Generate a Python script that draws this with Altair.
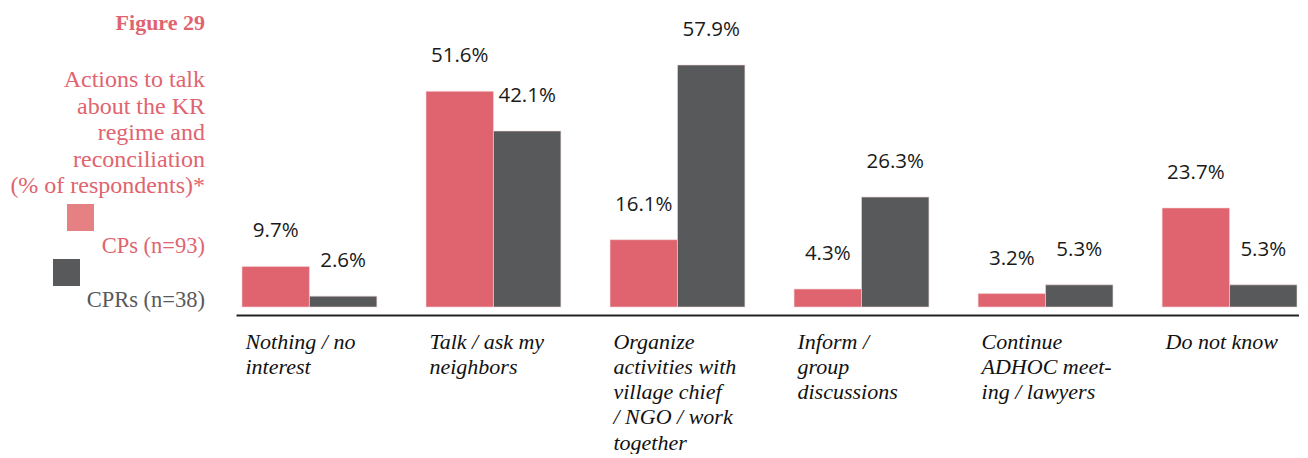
import altair as alt
import pandas as pd

categories = [
    "Nothing / no|interest",
    "Talk / ask my|neighbors",
    "Organize|activities with|village chief|/ NGO / work|together",
    "Inform /|group|discussions",
    "Continue|ADHOC meet-|ing / lawyers",
    "Do not know",
]
series = ["CPs (n=93)", "CPRs (n=38)"]
cps = [9.7, 51.6, 16.1, 4.3, 3.2, 23.7]
cprs = [2.6, 42.1, 57.9, 26.3, 5.3, 5.3]
bar_colors = ["#e0646f", "#58595b"]
legend_colors = ["#e58083", "#58595b"]
legend_text_colors = ["#e0646f", "#58595b"]
title_red = "#e0646f"
fig_label = "Figure 29"
title_text = "Actions to talk\nabout the KR\nregime and\nreconciliation\n(% of respondents)*"

rows = []
for i, c in enumerate(categories):
    rows.append({"category": c, "series": series[0], "value": cps[i]})
    rows.append({"category": c, "series": series[1], "value": cprs[i]})
df = pd.DataFrame(rows)

H = 299
W = 1063
ymax = H / 4.18

xenc = alt.X(
    "category:N",
    sort=categories,
    scale=alt.Scale(domain=categories, paddingInner=0.2671, paddingOuter=0.0217, align=0.75),
    axis=alt.Axis(
        title=None,
        ticks=False,
        domain=True,
        domainColor="#222222",
        domainWidth=2,
        offset=8,
        labelAngle=0,
        labelExpr="split(datum.label, '|')",
        labelAlign="left",
        labelBaseline="top",
        labelOffset=-64,
        labelPadding=16,
        labelFont="Liberation Serif",
        labelFontStyle="italic",
        labelFontSize=22,
        labelColor="#111111",
        labelLineHeight=25.3,
        labelBound=False,
        labelOverlap=False,
        labelFlush=False,
        labelLimit=300,
    ),
)
xoff = alt.XOffset("series:N", sort=series, scale=alt.Scale(domain=series, paddingInner=0, paddingOuter=0))
yenc = alt.Y("value:Q", scale=alt.Scale(domain=[0, ymax], nice=False, zero=True), axis=None)

base = alt.Chart(df).encode(x=xenc, xOffset=xoff, y=yenc)

bars = base.mark_bar(stroke="#f2d6d8", strokeWidth=0.6).encode(
    color=alt.Color("series:N", scale=alt.Scale(domain=series, range=bar_colors), legend=None)
)
labels = base.transform_calculate(
    lab="format(datum.value, '.1f') + '%'"
).mark_text(
    font="Open Sans", fontSize=20.5, color="#1a1a1a", baseline="alphabetic", dy=-29
).encode(text="lab:N")

main = alt.layer(bars, labels).properties(width=W, height=H)

# Left panel: figure label, title, custom legend
PW = 200
RX = 197
one = pd.DataFrame({"k": [0]})
fig = alt.Chart(one).mark_text(
    text=fig_label, font="Liberation Serif", fontWeight="bold", fontSize=22,
    color=title_red, align="right", baseline="alphabetic"
).encode(x=alt.value(RX), y=alt.value(22))
ttl = alt.Chart(one).mark_text(
    text=title_text, lineBreak="\n", lineHeight=26.6, font="Liberation Serif", fontSize=24,
    color=title_red, align="right", baseline="alphabetic"
).encode(x=alt.value(RX), y=alt.value(79))

leg_layers = []
sq_x = [59, 45]
sq_y = [196, 251]
tx_y = [245, 299]
for i, s in enumerate(series):
    leg_layers.append(
        alt.Chart(one).mark_rect(color=legend_colors[i]).encode(
            x=alt.value(sq_x[i]), x2=alt.value(sq_x[i] + 27),
            y=alt.value(sq_y[i]), y2=alt.value(sq_y[i] + 27),
        )
    )
    leg_layers.append(
        alt.Chart(one).mark_text(
            text=s, font="Liberation Serif", fontSize=22.5, color=legend_text_colors[i],
            align="right", baseline="alphabetic"
        ).encode(x=alt.value(RX), y=alt.value(tx_y[i]))
    )

left = alt.layer(fig, ttl, *leg_layers).properties(width=PW, height=H)

chart = alt.hconcat(left, main, spacing=28).properties(padding=0).configure_view(stroke=None)

chart.save("out.html", embed_options={"renderer": "svg", "actions": False})
